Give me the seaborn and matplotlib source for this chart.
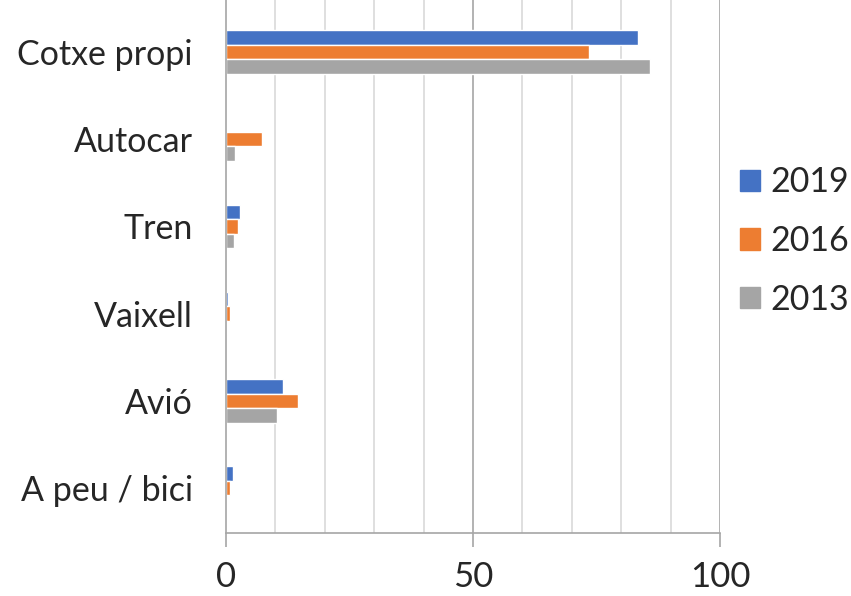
import matplotlib
matplotlib.use("Agg")
import matplotlib.pyplot as plt
import seaborn as sns
import pandas as pd
from matplotlib.patches import Patch

categories = ["Cotxe propi", "Autocar", "Tren", "Vaixell", "Avió", "A peu / bici"]
years = ["2019", "2016", "2013"]
v2019 = [83.3, 0.0, 2.9, 0.5, 11.5, 1.5]
v2016 = [73.5, 7.3, 2.5, 0.9, 14.6, 0.9]
v2013 = [85.9, 1.8, 1.6, 0.2, 10.3, 0.0]
colors = ["#4472C4", "#ED7D31", "#A5A5A5"]

rows = []
for yr, vals in zip(years, [v2019, v2016, v2013]):
    for c, v in zip(categories, vals):
        rows.append({"cat": c, "year": yr, "val": v})
df = pd.DataFrame(rows)

sns.set_style("white")
plt.rcParams["font.family"] = ["Lato", "DejaVu Sans"]

fig = plt.figure(figsize=(8.51, 5.96), dpi=100)
ax = fig.add_axes([226/851, (596-533)/596, (720-226)/851, 533/596])

sns.barplot(data=df, y="cat", x="val", hue="year", order=categories,
            hue_order=years, palette=colors, orient="h", width=0.5,
            gap=0, ax=ax, legend=False, saturation=1)

ax.set_xlim(0, 100)
ax.set_ylim(5.515, -0.596)
ax.set_xlabel("")
ax.set_ylabel("")

for x in range(10, 101, 10):
    ax.axvline(x, color="#d9d9d9" if x % 50 else "#a6a6a6", lw=1.2, zorder=0)

for s in ["top", "right"]:
    ax.spines[s].set_visible(False)
ax.spines["left"].set_color("#a6a6a6")
ax.spines["bottom"].set_color("#a6a6a6")
ax.spines["left"].set_linewidth(1.2)
ax.spines["bottom"].set_linewidth(1.2)

ax.set_xticks([0, 50, 100])
ax.tick_params(axis="x", length=10, color="#a6a6a6", width=1.2,
               labelsize=25, pad=10, bottom=True)
ax.tick_params(axis="y", length=0, labelsize=24.5, pad=24)

handles = [Patch(facecolor=c, edgecolor=c) for c in colors]
fig.legend(handles, years, loc="center left", bbox_to_anchor=(740/851, 1 - 241/596),
           frameon=False, fontsize=24.5, handlelength=0.6, handleheight=0.6,
           handletextpad=0.3, labelspacing=0.78, borderpad=0, borderaxespad=0)

fig.savefig("out.png", dpi=100)
